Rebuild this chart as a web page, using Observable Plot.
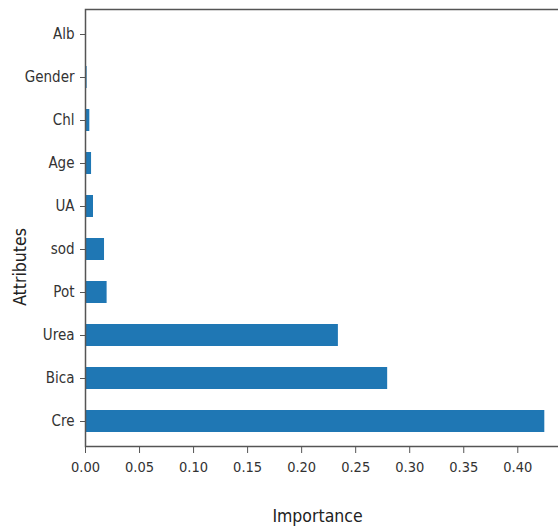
<!DOCTYPE html>
<html>
<head>
<meta charset="utf-8">
<script src="https://cdn.jsdelivr.net/npm/d3@7"></script>
<script src="https://cdn.jsdelivr.net/npm/@observablehq/plot@0.6"></script>
<style>
  html, body { margin: 0; padding: 0; background: #fff; overflow: hidden; }
  #chart svg { display: block; overflow: hidden; }
</style>
</head>
<body>
<div id="chart"></div>
<script>
const attributes = ["Alb", "Gender", "Chl", "Age", "UA", "sod", "Pot", "Urea", "Bica", "Cre"];
const importance = [0.0003, 0.0015, 0.004, 0.0056, 0.0074, 0.0176, 0.020, 0.234, 0.2796, 0.425];
const xTicks = [0, 0.05, 0.10, 0.15, 0.20, 0.25, 0.30, 0.35, 0.40];
const xLabel = "Importance";
const yLabel = "Attributes";

const data = attributes.map((a, i) => ({attribute: a, value: importance[i]}));
const font = "'DejaVu Sans Condensed', 'DejaVu Sans', sans-serif";
const axisColor = "#555";

const chart = Plot.plot({
  width: 558,
  height: 532,
  marginLeft: 85,
  marginTop: 9,
  marginBottom: 86,
  marginRight: -9,
  style: {fontFamily: font, fontSize: "14px", color: "#333", background: "#fff"},
  x: {domain: [0, 0.446]},
  y: {domain: attributes, paddingInner: 0.5, paddingOuter: 0.25},
  marks: [
    Plot.barX(data, {x: "value", y: "attribute", fill: "#1f77b4"}),
    Plot.frame({stroke: axisColor, strokeWidth: 1.5}),
    Plot.axisX({ticks: xTicks, tickFormat: d3.format(".2f"), tickSize: 7, stroke: axisColor, fill: "#333", fontSize: 14.5, tickPadding: 8, label: null}),
    Plot.axisY({tickSize: 5, stroke: axisColor, fill: "#333", fontSize: 15, tickPadding: 6, label: null}),
    Plot.text([xLabel], {text: d => d, frameAnchor: "bottom", textAnchor: "middle", dx: -9, dy: 75, fontSize: 17.5, fill: "#222"}),
    Plot.text([yLabel], {text: d => d, frameAnchor: "left", textAnchor: "middle", dx: -65, dy: 39, rotate: -90, fontSize: 17.5, fill: "#222"})
  ]
});
document.getElementById("chart").appendChild(chart);
</script>
</body>
</html>
